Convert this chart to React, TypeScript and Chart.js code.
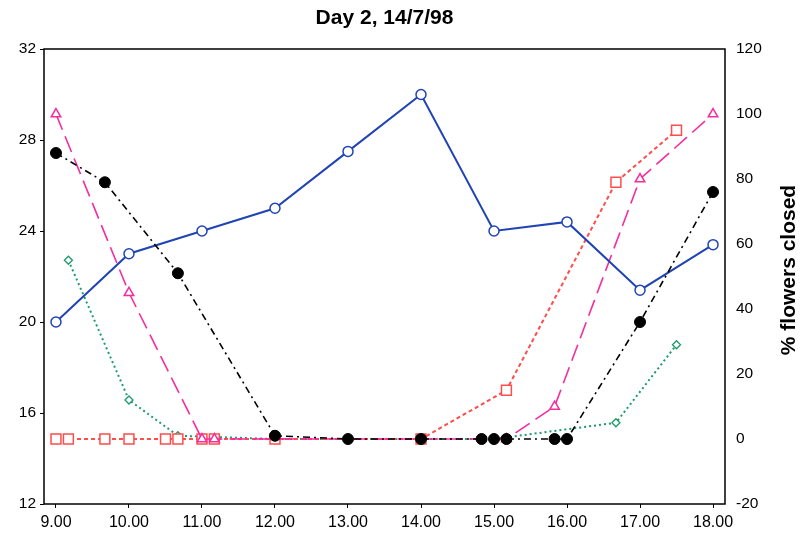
import React, { useEffect, useRef } from "react";
import { Chart, registerables } from "chart.js";

Chart.register(...registerables);

// Time of day in decimal hours
const xTickValues = [9, 10, 11, 12, 13, 14, 15, 16, 17, 18];

// Temperature (left axis)
const tempTimes = [9, 10, 11, 12, 13, 14, 15, 16, 17, 18];
const tempValues = [20, 23, 24, 25, 27.5, 30, 24, 24.4, 21.4, 23.4];

// % flowers closed (right axis)
const blackTimes = [9, 9.67, 10.67, 12, 13, 14, 14.83, 15, 15.17, 15.83, 16, 17, 18];
const blackValues = [88, 79, 51, 1, 0, 0, 0, 0, 0, 0, 0, 36, 76];

const magentaTimes = [9, 10, 11, 11.17, 15.17, 15.83, 17, 18];
const magentaValues = [100, 45, 0, 0, 0, 10, 80, 100];

const redTimes = [9, 9.17, 9.67, 10, 10.5, 10.67, 11, 11.17, 12, 14, 15.17, 16.67, 17.5];
const redValues = [0, 0, 0, 0, 0, 0, 0, 0, 0, 0, 15, 79, 95];

const greenTimes = [9.17, 10, 10.67, 12, 13, 14, 15, 16.67, 17.5];
const greenValues = [55, 12, 1, 0, 0, 0, 0, 5, 29];

const titleText = "Day 2, 14/7/98";
const rightAxisTitle = "% flowers closed";

const pts = (xs: number[], ys: number[]) => xs.map((x, i) => ({ x, y: ys[i] }));

const boxPlugin = {
  id: "boxPlugin",
  afterDatasetsDraw(chart: any) {
    const { ctx, chartArea } = chart;
    ctx.save();
    ctx.strokeStyle = "#000";
    ctx.lineWidth = 1.5;
    ctx.strokeRect(chartArea.left, chartArea.top, chartArea.right - chartArea.left, chartArea.bottom - chartArea.top);
    ctx.restore();
  },
  afterDraw(chart: any) {
    const { ctx } = chart;
    ctx.save();
    ctx.translate(chart.width - 15, 270);
    ctx.rotate(-Math.PI / 2);
    ctx.font = "bold 21px Arial, 'Liberation Sans', sans-serif";
    ctx.fillStyle = "#000";
    ctx.textAlign = "center";
    ctx.textBaseline = "middle";
    ctx.fillText(rightAxisTitle, 0, 0);
    ctx.restore();
  },
};

export default function App() {
  const ref = useRef<HTMLCanvasElement | null>(null);

  useEffect(() => {
    if (!ref.current) return;
    const font = "Arial, 'Liberation Sans', sans-serif";
    const chart = new Chart(ref.current, {
      type: "line",
      data: {
        datasets: [
          {
            label: "black",
            data: pts(blackTimes, blackValues),
            yAxisID: "y2",
            borderColor: "#000",
            borderWidth: 1.6,
            borderDash: [7, 4, 2, 4],
            pointStyle: "circle",
            pointRadius: 5.5,
            pointBackgroundColor: "#000",
            pointBorderColor: "#000",
            pointBorderWidth: 1,
            tension: 0,
          },
          {
            label: "temp",
            data: pts(tempTimes, tempValues),
            yAxisID: "y",
            borderColor: "#2144b4",
            borderWidth: 2,
            pointStyle: "circle",
            pointRadius: 5,
            pointBackgroundColor: "#fff",
            pointBorderColor: "#2144b4",
            pointBorderWidth: 1.5,
            tension: 0,
          },
          {
            label: "magenta",
            data: pts(magentaTimes, magentaValues),
            yAxisID: "y2",
            borderColor: "#f52d9e",
            borderWidth: 1.6,
            borderDash: [17, 7],
            pointStyle: "triangle",
            pointRadius: 5.5,
            pointBackgroundColor: "#fff",
            pointBorderColor: "#f52d9e",
            pointBorderWidth: 1.5,
            tension: 0,
          },
          {
            label: "red",
            data: pts(redTimes, redValues),
            yAxisID: "y2",
            borderColor: "#ff4c4c",
            borderWidth: 2,
            borderDash: [4, 3],
            pointStyle: "rect",
            pointRadius: 7,
            pointBackgroundColor: "#fff",
            pointBorderColor: "#ff4c4c",
            pointBorderWidth: 1.5,
            tension: 0,
          },
          {
            label: "green",
            data: pts(greenTimes, greenValues),
            yAxisID: "y2",
            borderColor: "#1e9a6c",
            borderWidth: 2,
            borderDash: [2, 3],
            pointStyle: "rectRot",
            pointRadius: 4,
            pointBackgroundColor: "#fff",
            pointBorderColor: "#1e9a6c",
            pointBorderWidth: 1.3,
            tension: 0,
          },
        ],
      },
      options: {
        animation: false,
        responsive: false,
        maintainAspectRatio: false,
        layout: { padding: 0 },
        plugins: {
          legend: { display: false },
          tooltip: { enabled: false },
          title: {
            display: true,
            text: titleText,
            fullSize: false,
            color: "#000",
            font: { family: font, size: 21, weight: "bold", lineHeight: 1.2 },
            padding: { top: 6, bottom: 17.8 },
          },
        },
        scales: {
          x: {
            type: "linear",
            min: 8.836,
            max: 18.164,
            afterBuildTicks: (scale: any) => {
              scale.ticks = xTickValues.map((v) => ({ value: v }));
            },
            afterFit: (scale: any) => {
              scale.height = 31;
            },
            border: { display: false },
            grid: { drawOnChartArea: false, drawTicks: true, tickLength: 4, color: "#000" },
            ticks: {
              color: "#000",
              font: { family: font, size: 16 },
              padding: 5,
              maxRotation: 0,
              autoSkip: false,
              callback: (v: any) => Number(v).toFixed(2),
            },
          },
          y: {
            type: "linear",
            position: "left",
            min: 12,
            max: 32,
            afterFit: (scale: any) => {
              scale.width = 44;
            },
            border: { display: false },
            grid: { drawOnChartArea: false, drawTicks: true, tickLength: 4, color: "#000" },
            ticks: {
              stepSize: 4,
              color: "#000",
              font: { family: font, size: 15.5 },
              padding: 4,
            },
          },
          y2: {
            type: "linear",
            position: "right",
            min: -20,
            max: 120,
            afterFit: (scale: any) => {
              scale.width = 79;
            },
            border: { display: false },
            grid: { drawOnChartArea: false, drawTicks: false },
            ticks: {
              stepSize: 20,
              color: "#000",
              font: { family: font, size: 15.5 },
              padding: 11,
            },
          },
        },
      },
      plugins: [boxPlugin],
    });
    return () => chart.destroy();
  }, []);

  return (
    <div style={{ position: "absolute", left: 0, top: 0, width: 804, height: 535, background: "#fff" }}>
      <canvas ref={ref} width={804} height={535} />
    </div>
  );
}
